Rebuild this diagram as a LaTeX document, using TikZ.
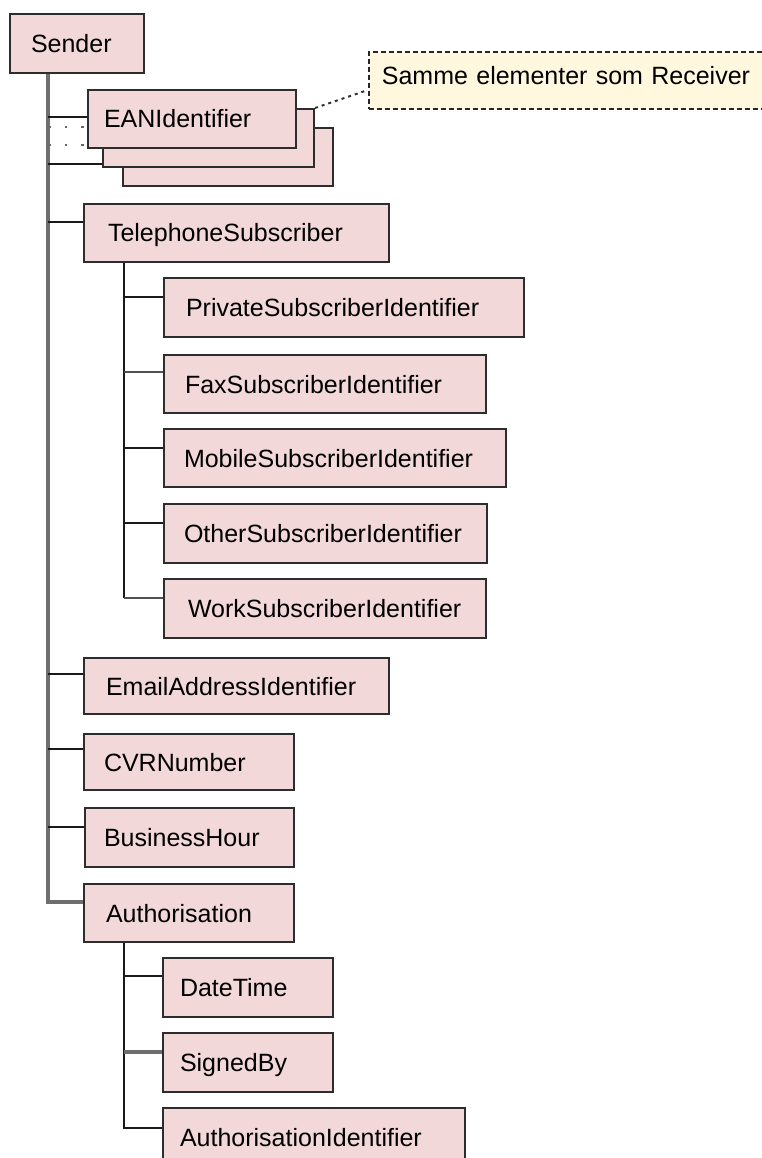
\documentclass[tikz,border=0pt]{standalone}
\usepackage{fontspec}
\setmainfont{Liberation Sans}
\definecolor{boxfill}{RGB}{243,216,218}
\definecolor{notefill}{RGB}{255,248,222}
\definecolor{boxline}{RGB}{45,45,45}
\definecolor{trunkgray}{RGB}{110,110,110}
\definecolor{conngray}{RGB}{80,80,80}
\tikzset{
  box/.style={draw=boxline, fill=boxfill, line width=2pt, rectangle, anchor=north west,
    inner ysep=0pt, align=left, text height=18pt, text depth=0pt,
    font=\fontsize{25pt}{30pt}\selectfont, text=black},
  notebox/.style={draw=black!85, fill=notefill, line width=1.8pt, dash pattern=on 5pt off 3pt,
    rectangle, anchor=north west, inner ysep=0pt, align=left, text height=18pt, text depth=10pt,
    font=\fontsize{25pt}{30pt}\selectfont, text=black},
  trunk/.style={draw=trunkgray, line width=3.5pt},
  sub/.style={draw=black!90, line width=2.5pt},
  conn/.style={draw=black!90, line width=2.5pt},
  conng/.style={draw=conngray, line width=2.5pt},
  connlg/.style={draw=trunkgray, line width=3.5pt},
  dots/.style={draw=black!60, line width=2.5pt, dash pattern=on 2.5pt off 14pt},
  notelink/.style={draw=black!80, line width=2pt, dash pattern=on 3pt off 4pt}
}
\begin{document}
\begin{tikzpicture}[x=1pt,y=-1pt]
\useasboundingbox (0,0) rectangle (762,1158);

% root
\node[box, minimum width=134pt, minimum height=59pt, inner xsep=21pt, text width=92pt] (sender) at (9,13) {Sender};
\path (sender.south west) ++(39,0) coordinate (trtop);

% dotted repetition lines (behind the stack)
\coordinate (eanA) at (87,127);
\coordinate (eanB) at (87,145);
\draw[dots] (trtop |- eanA) -- (eanA);
\draw[dots] (trtop |- eanB) -- (eanB);

% EANIdentifier stack
\node[box, minimum width=210pt, minimum height=58pt, inner xsep=16pt, text width=178pt] (ean3) at (122,127) {};
\node[box, minimum width=211pt, minimum height=58pt, inner xsep=16pt, text width=179pt] (ean2) at (102,108) {};
\node[box, minimum width=208pt, minimum height=58pt, inner xsep=16pt, text width=176pt] (ean1) at (87,89) {EANIdentifier};

% note
\node[notebox, minimum width=440pt, minimum height=57pt, inner xsep=13pt, text width=414pt] (note) at (368,51) {Samme elementer som Receiver};
\coordinate (notec) at ([yshift=-39pt]note.north west);
\draw[notelink] (ean2.north east) -- (notec);

% level 1 boxes
\node[box, minimum width=305pt, minimum height=58pt, inner xsep=24pt, text width=257pt] (tel) at (83,203) {TelephoneSubscriber};
\node[box, minimum width=305pt, minimum height=56pt, inner xsep=22pt, text width=261pt] (email) at (83,657) {EmailAddressIdentifier};
\node[box, minimum width=210pt, minimum height=56pt, inner xsep=20pt, text width=170pt] (cvr) at (83,733) {CVRNumber};
\node[box, minimum width=209pt, minimum height=59pt, inner xsep=19pt, text width=171pt] (bh) at (84,807) {BusinessHour};
\node[box, minimum width=210pt, minimum height=58pt, inner xsep=22pt, text width=166pt] (auth) at (83,883) {Authorisation};

% telephone children
\node[box, minimum width=360pt, minimum height=59pt, inner xsep=22pt, text width=316pt] (priv) at (163,277) {PrivateSubscriberIdentifier};
\node[box, minimum width=322pt, minimum height=58pt, inner xsep=21pt, text width=280pt] (fax) at (163,354) {FaxSubscriberIdentifier};
\node[box, minimum width=342pt, minimum height=58pt, inner xsep=20pt, text width=302pt] (mob) at (163,428) {MobileSubscriberIdentifier};
\node[box, minimum width=323pt, minimum height=59pt, inner xsep=20pt, text width=283pt] (oth) at (163,503) {OtherSubscriberIdentifier};
\node[box, minimum width=322pt, minimum height=59pt, inner xsep=24pt, text width=274pt] (work) at (163,578) {WorkSubscriberIdentifier};

% authorisation children
\node[box, minimum width=170pt, minimum height=59pt, inner xsep=17pt, text width=136pt] (dt) at (162,957) {DateTime};
\node[box, minimum width=170pt, minimum height=59pt, inner xsep=17pt, text width=136pt] (sb) at (162,1032) {SignedBy};
\node[box, minimum width=302pt, minimum height=59pt, inner xsep=17pt, text width=268pt] (aid) at (162,1107) {AuthorisationIdentifier};

% connection points
\coordinate (ean1c) at ([yshift=-28pt]ean1.north west);
\coordinate (ean2c) at ([yshift=-56pt]ean2.north west);
\coordinate (telc) at ([yshift=-19pt]tel.north west);
\coordinate (emailc) at ([yshift=-17pt]email.north west);
\coordinate (cvrc) at ([yshift=-16pt]cvr.north west);
\coordinate (bhc) at ([yshift=-20pt]bh.north west);
\coordinate (authc) at ([yshift=-19pt]auth.north west);
\coordinate (privc) at ([yshift=-20pt]priv.north west);
\coordinate (faxc) at ([yshift=-18pt]fax.north west);
\coordinate (mobc) at ([yshift=-20pt]mob.north west);
\coordinate (othc) at ([yshift=-20pt]oth.north west);
\coordinate (workc) at ([yshift=-20pt]work.north west);
\coordinate (dtc) at ([yshift=-19pt]dt.north west);
\coordinate (sbc) at ([yshift=-20pt]sb.north west);
\coordinate (aidc) at ([yshift=-21pt]aid.north west);

% main trunk
\draw[trunk] (trtop) |- (authc);
\draw[conn] (trtop |- ean1c) -- (ean1c);
\draw[conn] (trtop |- ean2c) -- (ean2c);
\draw[conn] (trtop |- telc) -- (telc);
\draw[conn] (trtop |- emailc) -- (emailc);
\draw[conn] (trtop |- cvrc) -- (cvrc);
\draw[conn] (trtop |- bhc) -- (bhc);

% telephone sub-trunk
\path (tel.south west) ++(41,0) coordinate (tsub);
\draw[sub] (tsub) -- (tsub |- workc);
\draw[conn] (tsub |- privc) -- (privc);
\draw[conng] (tsub |- faxc) -- (faxc);
\draw[conn] (tsub |- mobc) -- (mobc);
\draw[conn] (tsub |- othc) -- (othc);
\draw[conng] (tsub |- workc) -- (workc);

% authorisation sub-trunk
\path (auth.south west) ++(41,0) coordinate (asub);
\draw[sub] (asub) |- (aidc);
\draw[conn] (asub |- dtc) -- (dtc);
\draw[connlg] (asub |- sbc) -- (sbc);
\end{tikzpicture}
\end{document}
